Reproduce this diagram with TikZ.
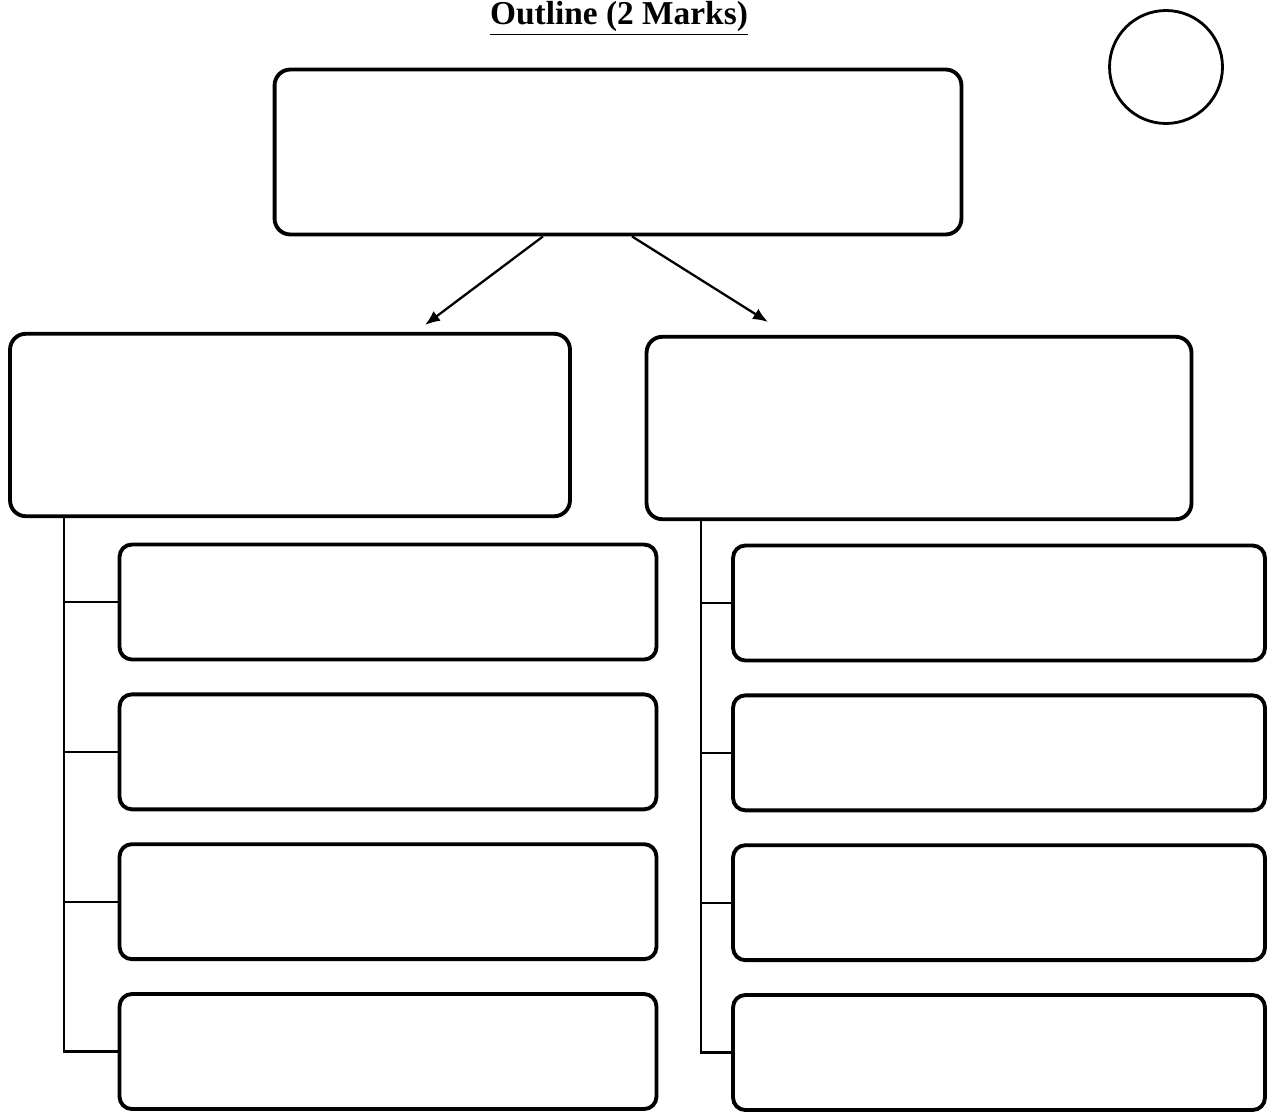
\documentclass[tikz,border=0pt]{standalone}
\usepackage{fontspec}
\setmainfont{Liberation Serif}
\usetikzlibrary{positioning,arrows.meta}

\begin{document}
\begin{tikzpicture}[x=0.02cm, y=-0.02cm,
		bigbox/.style={draw, line width=2.2pt, rounded corners=9pt, minimum width=#1},
		topbox/.style={bigbox=13.74cm, minimum height=3.3cm},
		midbox/.style={bigbox=#1, minimum height=3.65cm},
		pointbox/.style={draw, line width=2.2pt, rounded corners=7pt,
					minimum width=#1, minimum height=2.3cm},
		conn/.style={line width=1.2pt},
		arrow/.style={-{Latex[length=0.3cm,width=0.24cm]}, line width=1.3pt}
	]
		\useasboundingbox (0,0) rectangle (1273,1115);
		\node[anchor=base, font=\bfseries\fontsize{19}{23}\selectfont] (title) at (619,25) {\underline{Outline (2 Marks)}};
		\node[draw, circle, line width=1.6pt, minimum size=2.26cm] (marks) at (1166,67) {};

		\node[topbox] (main) at (618,152) {};
		\node[midbox=11.2cm] (lmid) at (290,425) {};
		\node[midbox=10.9cm] (rmid) at (919,428) {};

		% points on the left
		\node[pointbox=10.74cm] (l1) at (388,602) {};
		\node[pointbox=10.74cm, below=0.62cm of l1] (l2) {};
		\node[pointbox=10.74cm, below=0.62cm of l2] (l3) {};
		\node[pointbox=10.74cm, below=0.62cm of l3] (l4) {};

		% points on the right
		\node[pointbox=10.64cm] (r1) at (999,603) {};
		\node[pointbox=10.64cm, below=0.62cm of r1] (r2) {};
		\node[pointbox=10.64cm, below=0.62cm of r2] (r3) {};
		\node[pointbox=10.64cm, below=0.62cm of r3] (r4) {};

		\coordinate (lend) at (425,325);
		\coordinate (rend) at (768,322);
		\draw[arrow] (main.south -| 543,0) -- (lend);
		\draw[arrow] (main.south -| 632,0) -- (rend);

		\coordinate (lv) at (64,0);
		\coordinate (rv) at (701,0);
		\draw[conn] (lmid.south -| lv) |- (l4.west);
		\foreach \n in {l1,l2,l3}
			\draw[conn] (\n.west -| lv) -- (\n.west);
		\draw[conn] (rmid.south -| rv) |- (r4.west);
		\foreach \n in {r1,r2,r3}
			\draw[conn] (\n.west -| rv) -- (\n.west);
	\end{tikzpicture}
\end{document}
